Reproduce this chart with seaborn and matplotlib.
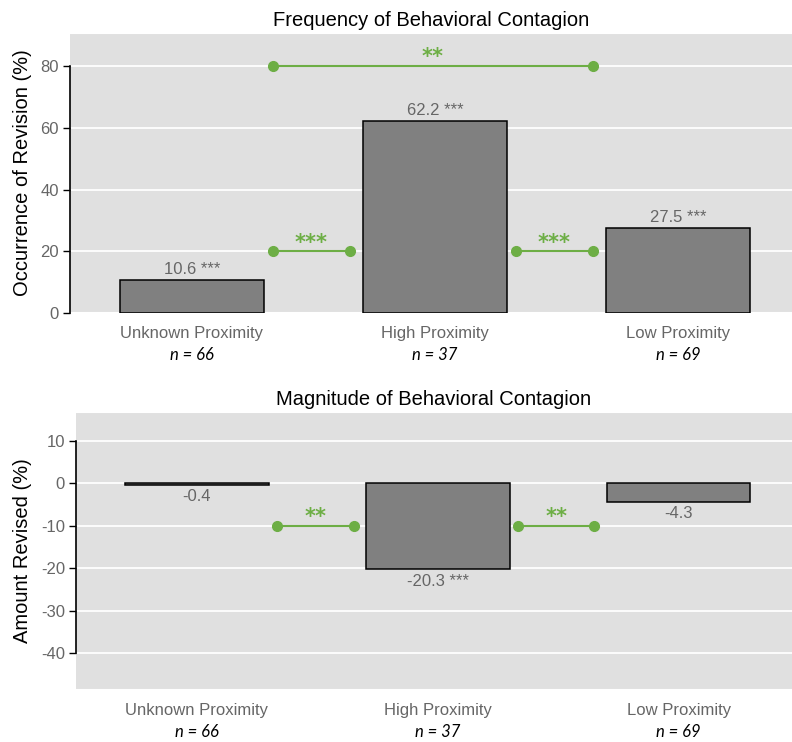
import seaborn as sns
import matplotlib.pyplot as plt
import pandas as pd

categories = ["Unknown Proximity", "High Proximity", "Low Proximity"]
n_counts = [66, 37, 69]

freq_values = [10.6, 62.2, 27.5]
freq_sig = ["***", "***", "***"]
freq_pairs = [(0, 1, "***", 20), (1, 2, "***", 20), (0, 2, "**", 80)]

mag_values = [-0.4, -20.3, -4.3]
mag_sig = ["", "***", ""]
mag_pairs = [(0, 1, "**", -10), (1, 2, "**", -10)]

BG = "#E0E0E0"
BAR = "#808080"
GREEN = "#6DAE45"
GREY_TXT = "#666666"

sns.set_theme(style="darkgrid")
plt.rcParams["font.family"] = ["Liberation Sans", "DejaVu Sans"]
plt.rcParams["axes.unicode_minus"] = False


def draw_panel(ax, values, sig, pairs, title, ylabel, yticks, ylim):
    df = pd.DataFrame({"group": categories, "value": values})
    sns.barplot(data=df, x="group", y="value", color=BAR, saturation=1,
                edgecolor="black", linewidth=1.1, width=0.595, ax=ax, errorbar=None)
    ax.set_facecolor(BG)
    ax.set_xlim(-0.502, 2.47)
    ax.set_ylim(*ylim)
    ax.set_yticks(yticks)
    ax.grid(axis="y", color="white", linewidth=1.3)
    ax.grid(axis="x", visible=False)
    ax.set_axisbelow(True)
    for s in ["top", "right", "bottom"]:
        ax.spines[s].set_visible(False)
    ax.spines["left"].set_visible(True)
    ax.spines["left"].set_color("black")
    ax.spines["left"].set_linewidth(1.2)
    ax.spines["left"].set_bounds(min(yticks), max(yticks))
    ax.axhline(ylim[1], color="white", linewidth=1.5, zorder=0.5)
    ax.axhline(ylim[0], color="white", linewidth=1.5, zorder=0.5)
    ax.tick_params(axis="y", left=True, length=5, width=1, color="black",
                   labelsize=12, labelcolor=GREY_TXT, pad=3)
    ax.tick_params(axis="x", bottom=False, labelsize=12, labelcolor=GREY_TXT, pad=3)
    ax.set_xlabel("")
    ax.set_ylabel(ylabel, fontsize=14.5, color="black")
    ax.set_title(title, fontsize=14.5, color="black", pad=5)

    # value labels
    for i, (v, s) in enumerate(zip(values, sig)):
        txt = f"{v:.1f}" + (f" {s}" if s else "")
        if v >= 0:
            ax.annotate(txt, (i, v), xytext=(0, 2.5), textcoords="offset points",
                        ha="center", va="bottom", fontsize=12, color=GREY_TXT)
        else:
            ax.annotate(txt, (i, v), xytext=(0, -3), textcoords="offset points",
                        ha="center", va="top", fontsize=12, color=GREY_TXT)

    # sample sizes
    for i, n in enumerate(n_counts):
        ax.annotate(f"n = {n}", (i, 0), xycoords=("data", "axes fraction"),
                    xytext=(0, -24.5), textcoords="offset points", ha="center", va="top",
                    fontsize=12, style="italic", family=["Lato", "DejaVu Sans"], color="black")

    # significance brackets
    for a, b, stars, y in pairs:
        x0, x1 = a + 0.333, b - 0.35
        ax.plot([x0, x1], [y, y], color=GREEN, linewidth=1.5, marker="o",
                markersize=7, zorder=4, clip_on=False)
        ax.annotate(stars, ((x0 + x1) / 2, y), xytext=(0, -1), textcoords="offset points",
                    ha="center", va="bottom", fontsize=15, fontweight="bold",
                    color=GREEN, family=["DejaVu Sans"])


fig = plt.figure(figsize=(7.92, 7.42), dpi=100)
ax1 = fig.add_axes([70 / 792, 1 - 313 / 742, 1 - 70 / 792, (313 - 33) / 742])
ax2 = fig.add_axes([76 / 792, 1 - 690 / 742, 1 - 76 / 792, (690 - 412) / 742])

draw_panel(ax1, freq_values, freq_sig, freq_pairs, "Frequency of Behavioral Contagion",
           "Occurrence of Revision (%)", [0, 20, 40, 60, 80], (0, 90.7))
draw_panel(ax2, mag_values, mag_sig, mag_pairs, "Magnitude of Behavioral Contagion",
           "Amount Revised (%)", [-40, -30, -20, -10, 0, 10], (-48.7, 16.8))

ax1.yaxis.set_label_coords((32 - 70) / 722, 0.5)
ax2.yaxis.set_label_coords((32 - 76) / 716, 0.5)

fig.savefig("out.png", dpi=100)
